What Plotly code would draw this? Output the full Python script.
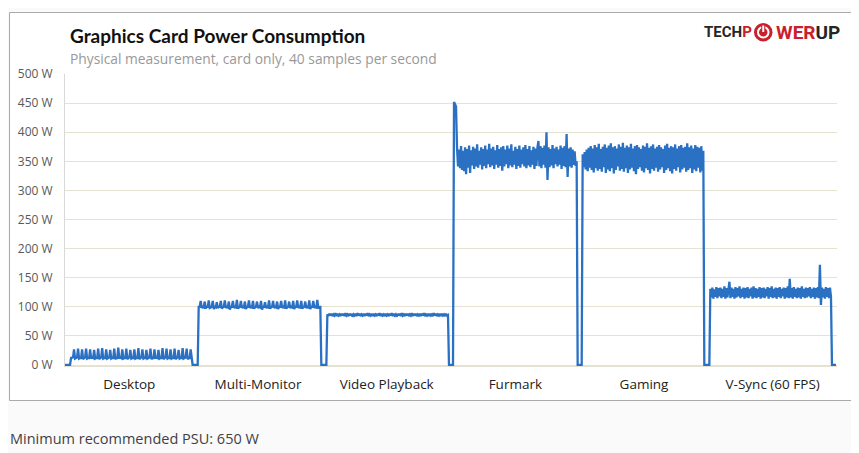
import numpy as np
import plotly.graph_objects as go

# ---------------- data ----------------
categories = ["Desktop", "Multi-Monitor", "Video Playback", "Furmark", "Gaming", "V-Sync (60 FPS)"]

desktop_w = [0, 0, 0, 0, 0, 0, 12, 12, 13,
             27, 11, 12, 13, 28, 11, 12, 12, 27, 10, 12, 13, 28, 11, 12, 12,
             27, 11, 13, 12, 26, 11, 12, 12, 28, 10, 12, 13, 29, 11, 12, 12,
             27, 11, 12, 13, 26, 11, 12, 12, 28, 10, 12, 12, 30, 11, 13, 12,
             27, 11, 12, 12, 28, 10, 12, 13, 26, 11, 12, 12, 27, 11, 12, 12,
             29, 10, 12, 13, 27, 11, 12, 12, 26, 11, 12, 13, 28, 10, 12, 12,
             27, 11, 13, 12, 26, 11, 12, 12, 29, 10, 12, 13, 28, 11, 12, 12,
             27, 11, 12, 12, 28, 10, 12, 13, 26, 11, 12, 12, 29, 11, 12, 13,
             28, 10, 12, 12,
             27, 12, 0]

multimonitor_w = [0, 0, 0, 0, 0, 100, 100,
                  110, 98, 100, 99, 109, 97, 100, 100, 111, 98, 99, 100,
                  110, 96, 100, 99, 108, 98, 100, 100, 110, 97, 99, 100,
                  111, 98, 100, 99, 109, 95, 100, 100, 110, 98, 100, 99,
                  112, 97, 99, 100, 110, 98, 100, 99, 109, 96, 100, 100,
                  111, 98, 100, 99, 110, 97, 99, 100, 109, 98, 100, 99,
                  110, 95, 100, 100, 108, 98, 100, 99, 111, 97, 99, 100,
                  110, 98, 100, 99, 109, 96, 100, 100, 110, 98, 100, 99,
                  111, 97, 99, 100, 109, 98, 100, 99, 110, 96, 100, 100,
                  111, 98, 100, 99, 110, 97, 99, 100, 109, 98, 100, 99,
                  111, 96, 100, 100, 110, 98, 100, 99, 112, 97, 100, 100,
                  0]

video_w = [0, 0, 0, 0, 0,
           87, 84, 88, 85, 88, 84, 87, 85, 89, 84,
           88, 85, 87, 84, 88, 85, 88, 84, 89, 85,
           87, 84, 88, 85, 88, 83, 87, 85, 88, 84,
           89, 85, 88, 84, 87, 85, 88, 84, 88, 85,
           89, 84, 87, 85, 88, 84, 88, 85, 87, 84,
           88, 85, 89, 84, 88, 85, 87, 84, 88, 85,
           87, 84, 88, 85, 89, 84, 88, 85, 87, 83,
           88, 85, 88, 84, 89, 85, 87, 84, 88, 85,
           88, 84, 87, 85, 89, 84, 88, 85, 88, 84,
           87, 85, 88, 84, 88, 85, 89, 84, 87, 85,
           88, 84, 88, 85, 87, 84, 89, 85, 88, 84,
           87, 85, 88, 84, 88, 85, 87, 84, 88, 85,
           86,
           0, 0]

furmark_w = [0, 0, 0, 452, 449, 444,
             373, 341, 370, 338, 376, 335, 368, 333, 374, 328,
             371, 339, 377, 330, 369, 343, 375, 337, 372, 341,
             379, 339, 368, 344, 374, 336, 371, 342, 377, 338,
             370, 345, 380, 340, 372, 343, 375, 337, 369, 344,
             378, 339, 371, 342, 374, 334, 376, 341, 370, 345,
             377, 338, 372, 343, 379, 340, 368, 344, 375, 337,
             371, 342, 377, 339, 370, 345, 374, 341, 378, 338,
             371, 343, 376, 340, 369, 344, 375, 337, 372, 342,
             374, 385, 341, 376, 338, 373, 344, 377, 339, 400,
             318, 374, 340, 371, 343, 378, 338, 372, 345, 375,
             341, 370, 344, 377, 337, 373, 342, 376, 340, 397,
             323, 372, 341, 374, 339, 370, 344, 367, 342, 350,
             0, 0]

gaming_w = [0, 0, 0,
            362, 340, 366, 336, 370, 333, 373, 339, 376, 335,
            372, 331, 378, 338, 374, 334, 380, 337, 371, 332,
            375, 340, 379, 330, 373, 336, 377, 333, 381, 338,
            374, 329, 376, 335, 372, 341, 379, 334, 375, 337,
            382, 332, 373, 338, 377, 330, 374, 336, 380, 339,
            372, 333, 376, 328, 378, 337, 374, 340, 371, 334,
            377, 331, 375, 338, 381, 335, 373, 329, 376, 337,
            379, 334, 372, 339, 375, 332, 378, 336, 374, 340,
            371, 330, 377, 335, 380, 338, 373, 333, 376, 329,
            374, 337, 379, 334, 372, 340, 376, 331, 378, 336,
            373, 339, 375, 332, 381, 335, 374, 338, 377, 330,
            372, 336, 378, 333, 375, 339, 373, 331, 376, 334,
            368,
            0, 0, 0, 0]

vsync_w = [0, 0,
           131, 116, 133, 114, 130, 117, 134, 115, 132, 118,
           133, 115, 131, 117, 135, 114, 132, 116, 130, 143,
           115, 133, 117, 131, 114, 134, 116, 132, 118, 135,
           115, 131, 117, 133, 114, 132, 116, 134, 115, 131,
           118, 133, 114, 135, 116, 132, 115, 131, 117, 134,
           114, 132, 116, 133, 115, 131, 118, 134, 114, 132,
           117, 135, 115, 131, 116, 133, 114, 132, 117, 134,
           115, 131, 118, 133, 114, 132, 116, 135, 115, 148,
           116, 132, 114, 134, 117, 131, 115, 133, 116, 132,
           114, 135, 117, 131, 115, 133, 116, 132, 118, 134,
           115, 131, 117, 133, 114, 132, 116, 134, 115, 172,
           103, 133, 116, 131, 114, 134, 117, 132, 115, 133,
           117,
           0, 0, 0, 0, 0]

y_ticks = [0, 50, 100, 150, 200, 250, 300, 350, 400, 450, 500]
y_tick_text = [f"{v} W" for v in y_ticks]

title_text = "Graphics Card Power Consumption"
subtitle_text = "Physical measurement, card only, 40 samples per second"
footer_text = "Minimum recommended PSU: 650 W"

# ---------------- build trace ----------------
segments = [desktop_w, multimonitor_w, video_w, furmark_w, gaming_w, vsync_w]
xs, ys = [], []
for k, seg in enumerate(segments):
    n = len(seg)
    xs.extend((k + np.arange(n) / n).tolist())
    ys.extend(seg)

# page offset compensation (browser body margin)
OFF = 8
W, H = 859 - OFF, 453 - OFF
def px(x):
    return (x - OFF) / W
def py(y):
    return 1 - (y - OFF) / H

fig = go.Figure()
fig.add_trace(go.Scatter(x=xs, y=ys, mode="lines",
                         line=dict(color="#2a71c4", width=2.3),
                         hoverinfo="skip", showlegend=False))

font_main = "Open Sans, Noto Sans, DejaVu Sans, sans-serif"
logo_font = "Roboto, Liberation Sans, sans-serif"
red = "#c8202c"
dark = "#262626"

fig.update_layout(
    width=W, height=H, autosize=False,
    margin=dict(l=0, r=0, t=0, b=0, pad=0, autoexpand=False),
    paper_bgcolor="#fafafa",
    plot_bgcolor="#fcfcfc",
    font=dict(family=font_main),
    xaxis=dict(domain=[px(65), px(837)], range=[0, 6], automargin=False,
               tickmode="array",
               tickvals=[i + 0.5 for i in range(len(categories))],
               ticktext=categories, showgrid=False, zeroline=False,
               showline=True, linecolor="#e6e2d2", linewidth=1,
               ticks="", ticklabelstandoff=6,
               tickfont=dict(size=13.5, color="#222222", family=font_main),
               fixedrange=True),
    yaxis=dict(domain=[py(366.16), py(74)], range=[-2, 500], automargin=False,
               tickmode="array", tickvals=y_ticks, ticktext=y_tick_text,
               showgrid=True, gridcolor="#e6e2d2", gridwidth=1,
               zeroline=False, showline=True, linecolor="#d9d9d9", linewidth=1,
               ticks="", ticklabelstandoff=9,
               tickfont=dict(size=12, color="#595959", family=font_main),
               fixedrange=True),
    shapes=[
        dict(type="rect", xref="paper", yref="paper",
             x0=px(9.5), x1=px(852.5), y0=py(400.5), y1=py(12.5),
             line=dict(color="#aaaaaa", width=1), fillcolor="#ffffff", layer="below"),
        # logo power button
        dict(type="circle", xref="paper", yref="paper",
             x0=px(754), x1=px(772.5), y0=py(41.5), y1=py(23),
             line=dict(width=0), fillcolor=red, layer="above"),
        dict(type="circle", xref="paper", yref="paper",
             x0=px(758), x1=px(768.5), y0=py(37.5), y1=py(27),
             line=dict(width=2, color="#ffffff"), fillcolor="rgba(0,0,0,0)", layer="above"),
        dict(type="line", xref="paper", yref="paper",
             x0=px(763.25), x1=px(763.25), y0=py(31), y1=py(24.5),
             line=dict(width=4, color=red), layer="above"),
        dict(type="line", xref="paper", yref="paper",
             x0=px(763.25), x1=px(763.25), y0=py(32), y1=py(25.5),
             line=dict(width=2, color="#ffffff"), layer="above"),
    ],
    annotations=[
        dict(text="<b>" + title_text + "</b>", xref="paper", yref="paper",
             x=px(68), y=py(36), xanchor="left", yanchor="middle", showarrow=False,
             font=dict(size=19, color="#111111", family="Lato, Open Sans, sans-serif")),
        dict(text=subtitle_text, xref="paper", yref="paper",
             x=px(68), y=py(58), xanchor="left", yanchor="middle", showarrow=False,
             font=dict(size=13.8, color="#999999", family=font_main)),
        dict(text=footer_text, xref="paper", yref="paper",
             x=px(8), y=py(438), xanchor="left", yanchor="middle", showarrow=False,
             font=dict(size=14.5, color="#3f3f46", family=font_main)),
        dict(text="<b>TECH<span style='color:%s'>P</span></b>" % red,
             xref="paper", yref="paper", x=px(753.5), y=py(32.5),
             xanchor="right", yanchor="middle", showarrow=False,
             font=dict(size=15, color=dark, family=logo_font)),
        dict(text="<b>WER<span style='color:%s'>UP</span></b>" % dark,
             xref="paper", yref="paper", x=px(773.5), y=py(32.5),
             xanchor="left", yanchor="middle", showarrow=False,
             font=dict(size=19, color=red, family=logo_font)),
    ],
)

fig.write_html("out.html")
